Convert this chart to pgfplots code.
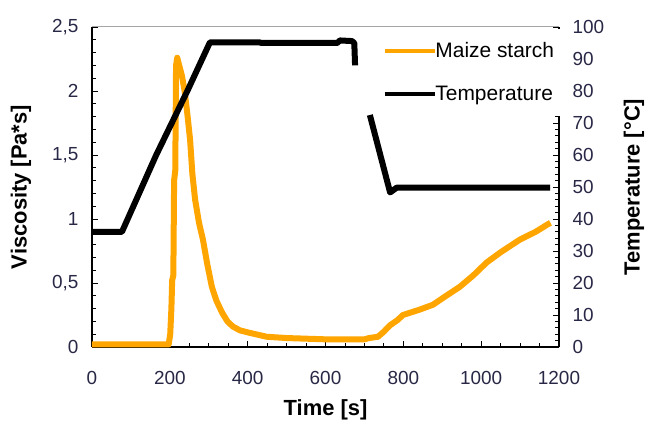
\documentclass[border=0pt]{standalone}
\usepackage{fontspec}
\setmainfont{Liberation Sans}
\usepackage{pgfplots}
\pgfplotsset{compat=1.18}
\usepackage{pgfplotstable}
\definecolor{maize}{RGB}{255,165,0}
\definecolor{ticktext}{RGB}{40,40,70}

\pgfplotstableread{
t v
0 0.02
197 0.02
201 0.1
204 0.3
206 0.52
209 0.56
211 1.3
214 1.38
216 2.2
219 2.26
224 2.2
231 2.12
238 2.0
245 1.82
252 1.62
258 1.35
265 1.15
275 0.97
285 0.84
296 0.65
308 0.47
320 0.36
334 0.27
348 0.2
362 0.16
380 0.13
406 0.11
449 0.08
500 0.07
600 0.06
700 0.06
712 0.07
735 0.08
750 0.12
766 0.17
785 0.21
799 0.25
840 0.29
876 0.33
910 0.4
945 0.47
980 0.56
1014 0.66
1050 0.74
1100 0.84
1140 0.9
1172 0.96
1178 0.97
}\visc

\pgfplotstableread{
t T
0 36
77 36
165 60
245 80
303 95.2
430 95.2
436 95
630 95
637 95.8
668 95.6
674 95
676 88
695 nan
714 72.5
766 48.3
783 49.8
1177 49.8
}\temp

\pgfplotsset{common/.style={
  scale only axis, width=467bp, height=320bp,
  xmin=0, xmax=1200,
  tick align=inside,
  major tick length=6bp, minor tick length=4bp,
  ticklabel style={font=\fontsize{19}{21}\selectfont, text=ticktext},
  /pgf/number format/assume math mode=true,
  /pgf/number format/1000 sep={},
  axis line style={-, line width=1.2bp},
  every tick/.style={black, line width=0.8bp},
  label style={font=\bfseries\fontsize{22}{24}\selectfont},
}}

\begin{document}
\begin{tikzpicture}
\path[use as bounding box] (-92bp,-79bp) rectangle (554bp,347bp);
\begin{axis}[common,
  axis x line*=bottom, axis y line*=left,
  ymin=0, ymax=2.5,
  ytick={0,0.5,1,1.5,2,2.5}, minor y tick num=4,
  xtick={0,200,...,1200}, minor x tick num=3,
  yticklabel style={/pgf/number format/use comma, /pgf/number format/fixed, xshift=-10bp},
  xticklabel style={yshift=-21bp},
  xlabel={Time [s]}, ylabel={Viscosity [Pa*s]},
  xlabel style={at={(axis description cs:0.5,-0.197)}, anchor=center, inner sep=0pt},
  ylabel style={at={(axis description cs:-0.152,0.5)}, anchor=center},
]
\draw[gray!70, line width=1bp] (axis description cs:0,1) -- (axis description cs:1,1);
\addplot[maize, line width=6bp, line join=round] table[x=t,y=v]{\visc};
\end{axis}
\begin{axis}[common,
  axis x line=none, axis y line*=right,
  ymin=0, ymax=100,
  ytick distance=10, minor y tick num=4,
  yticklabel style={xshift=10bp},
  ylabel={Temperature [°C]},
  ylabel style={at={(axis description cs:1.1606,0.5)}, anchor=center},
  unbounded coords=jump,
  legend cell align=left,
  legend image code/.code={\draw[#1, line width=4.5bp] (0bp,0bp) -- (50bp,0bp);},
  legend style={draw=none, fill=white, at={(axis description cs:1.008,0.994)}, anchor=north east,
    font=\fontsize{21}{23}\selectfont, inner xsep=6bp, inner ysep=11bp, row sep=22bp,
    nodes={inner sep=2.5bp}},
]
\addlegendimage{maize, line width=6bp}
\addlegendentry{\hspace*{-4bp}Maize starch}
\addplot[black, line width=6bp, line join=round] table[x=t,y=T]{\temp};
\addlegendentry{\hspace*{-4bp}Temperature}
\end{axis}
\end{tikzpicture}
\end{document}
